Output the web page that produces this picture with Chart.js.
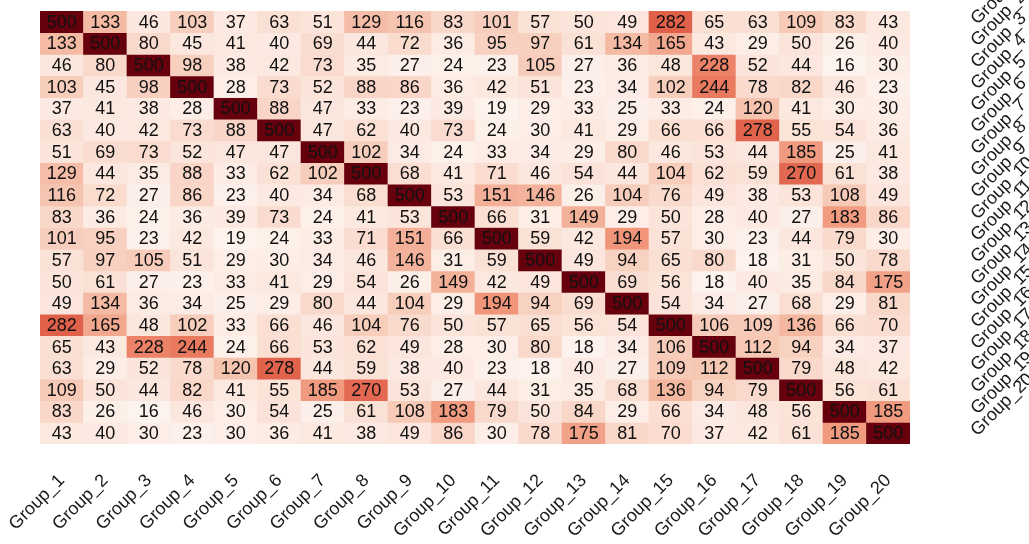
<!DOCTYPE html>
<html>
<head>
<meta charset="utf-8">
<script src="https://cdn.jsdelivr.net/npm/chart.js@4.4.1/dist/chart.umd.min.js"></script>
<style>
  html, body { margin: 0; padding: 0; background: #ffffff; overflow: hidden; }
  #wrap { width: 1029px; height: 544px; position: relative; }
</style>
</head>
<body>
<div id="wrap"><canvas id="heatmap"></canvas></div>
<script>
// Group names (columns left to right, rows top to bottom)
const groups = [
  'Group_1','Group_2','Group_3','Group_4','Group_5','Group_6','Group_7','Group_8','Group_9','Group_10',
  'Group_11','Group_12','Group_13','Group_14','Group_15','Group_16','Group_17','Group_18','Group_19','Group_20'
];

// Pairwise counts, one row per group
const matrix = [
  [500,133, 46,103, 37, 63, 51,129,116, 83,101, 57, 50, 49,282, 65, 63,109, 83, 43],
  [133,500, 80, 45, 41, 40, 69, 44, 72, 36, 95, 97, 61,134,165, 43, 29, 50, 26, 40],
  [ 46, 80,500, 98, 38, 42, 73, 35, 27, 24, 23,105, 27, 36, 48,228, 52, 44, 16, 30],
  [103, 45, 98,500, 28, 73, 52, 88, 86, 36, 42, 51, 23, 34,102,244, 78, 82, 46, 23],
  [ 37, 41, 38, 28,500, 88, 47, 33, 23, 39, 19, 29, 33, 25, 33, 24,120, 41, 30, 30],
  [ 63, 40, 42, 73, 88,500, 47, 62, 40, 73, 24, 30, 41, 29, 66, 66,278, 55, 54, 36],
  [ 51, 69, 73, 52, 47, 47,500,102, 34, 24, 33, 34, 29, 80, 46, 53, 44,185, 25, 41],
  [129, 44, 35, 88, 33, 62,102,500, 68, 41, 71, 46, 54, 44,104, 62, 59,270, 61, 38],
  [116, 72, 27, 86, 23, 40, 34, 68,500, 53,151,146, 26,104, 76, 49, 38, 53,108, 49],
  [ 83, 36, 24, 36, 39, 73, 24, 41, 53,500, 66, 31,149, 29, 50, 28, 40, 27,183, 86],
  [101, 95, 23, 42, 19, 24, 33, 71,151, 66,500, 59, 42,194, 57, 30, 23, 44, 79, 30],
  [ 57, 97,105, 51, 29, 30, 34, 46,146, 31, 59,500, 49, 94, 65, 80, 18, 31, 50, 78],
  [ 50, 61, 27, 23, 33, 41, 29, 54, 26,149, 42, 49,500, 69, 56, 18, 40, 35, 84,175],
  [ 49,134, 36, 34, 25, 29, 80, 44,104, 29,194, 94, 69,500, 54, 34, 27, 68, 29, 81],
  [282,165, 48,102, 33, 66, 46,104, 76, 50, 57, 65, 56, 54,500,106,109,136, 66, 70],
  [ 65, 43,228,244, 24, 66, 53, 62, 49, 28, 30, 80, 18, 34,106,500,112, 94, 34, 37],
  [ 63, 29, 52, 78,120,278, 44, 59, 38, 40, 23, 18, 40, 27,109,112,500, 79, 48, 42],
  [109, 50, 44, 82, 41, 55,185,270, 53, 27, 44, 31, 35, 68,136, 94, 79,500, 56, 61],
  [ 83, 26, 16, 46, 30, 54, 25, 61,108,183, 79, 50, 84, 29, 66, 34, 48, 56,500,185],
  [ 43, 40, 30, 23, 30, 36, 41, 38, 49, 86, 30, 78,175, 81, 70, 37, 42, 61,185,500]
];

// Colour ramp (value -> colour), light peach to deep maroon
const colorStops = [
  [0,   [255, 247, 243]],
  [16,  [253, 243, 238]],
  [30,  [252, 237, 230]],
  [50,  [251, 229, 219]],
  [80,  [249, 217, 203]],
  [105, [247, 204, 186]],
  [135, [244, 185, 162]],
  [165, [242, 167, 143]],
  [190, [240, 151, 124]],
  [230, [236, 129, 102]],
  [245, [234, 122,  95]],
  [282, [224,  96,  74]],
  [500, [103,   0,  13]]
];

function cellColor(v) {
  for (let k = 1; k < colorStops.length; k++) {
    const [v1, c1] = colorStops[k];
    const [v0, c0] = colorStops[k - 1];
    if (v <= v1) {
      const t = (v - v0) / (v1 - v0);
      const c = c0.map((a, i) => Math.round(a + (c1[i] - a) * t));
      return `rgb(${c[0]},${c[1]},${c[2]})`;
    }
  }
  const c = colorStops[colorStops.length - 1][1];
  return `rgb(${c[0]},${c[1]},${c[2]})`;
}

const FONT = '"Liberation Sans", Arial, Helvetica, sans-serif';

// Writes each cell's count in the middle of its rectangle
const cellLabels = {
  id: 'cellLabels',
  afterDatasetsDraw(chart) {
    const ctx = chart.ctx;
    ctx.save();
    ctx.font = `18px ${FONT}`;
    ctx.fillStyle = '#111111';
    ctx.textAlign = 'center';
    ctx.textBaseline = 'middle';
    chart.data.datasets.forEach((ds, r) => {
      const meta = chart.getDatasetMeta(r);
      meta.data.forEach((bar, c) => {
        const yMid = (bar.y + bar.base) / 2;
        ctx.fillText(String(ds.cellValues[c]), bar.x, yMid + 1);
      });
    });
    ctx.restore();
  }
};

// One floating-bar dataset per row; each bar covers one cell of that row
const datasets = matrix.map((row, r) => ({
  label: groups[r],
  cellValues: row,
  data: row.map(() => [r, r + 1]),
  backgroundColor: row.map(cellColor),
  borderWidth: 0,
  grouped: false,
  barPercentage: 1,
  categoryPercentage: 1
}));

// Keep rotated tick labels from pushing the plot area inwards
function noLabelPadding(scale) {
  scale.paddingLeft = 0;
  scale.paddingRight = 0;
  scale.paddingTop = 0;
  scale.paddingBottom = 0;
}

new Chart(document.getElementById('heatmap'), {
  type: 'bar',
  data: { labels: groups, datasets },
  options: {
    responsive: true,
    maintainAspectRatio: false,
    animation: false,
    layout: { padding: { left: 40, top: 11, right: 0, bottom: 0 } },
    plugins: { legend: { display: false }, tooltip: { enabled: false } },
    scales: {
      x: {
        type: 'category',
        position: 'bottom',
        grid: { display: false, drawTicks: false },
        border: { display: false },
        ticks: {
          autoSkip: false,
          minRotation: 45,
          maxRotation: 45,
          padding: 26,
          color: '#1a1a1a',
          font: { family: FONT, size: 18 }
        },
        afterFit(scale) { scale.height = 100; noLabelPadding(scale); }
      },
      y: {
        type: 'linear',
        position: 'right',
        reverse: true,
        min: 0,
        max: groups.length,
        grid: { display: false, drawTicks: false },
        border: { display: false },
        afterBuildTicks(scale) {
          scale.ticks = groups.map((g, i) => ({ value: i + 0.5 }));
        },
        ticks: {
          autoSkip: false,
          minRotation: 45,
          maxRotation: 45,
          padding: 64,
          color: '#1a1a1a',
          font: { family: FONT, size: 18 },
          callback: (value, index) => groups[index]
        },
        afterFit(scale) { scale.width = 119; noLabelPadding(scale); }
      }
    }
  },
  plugins: [cellLabels]
});
</script>
</body>
</html>
